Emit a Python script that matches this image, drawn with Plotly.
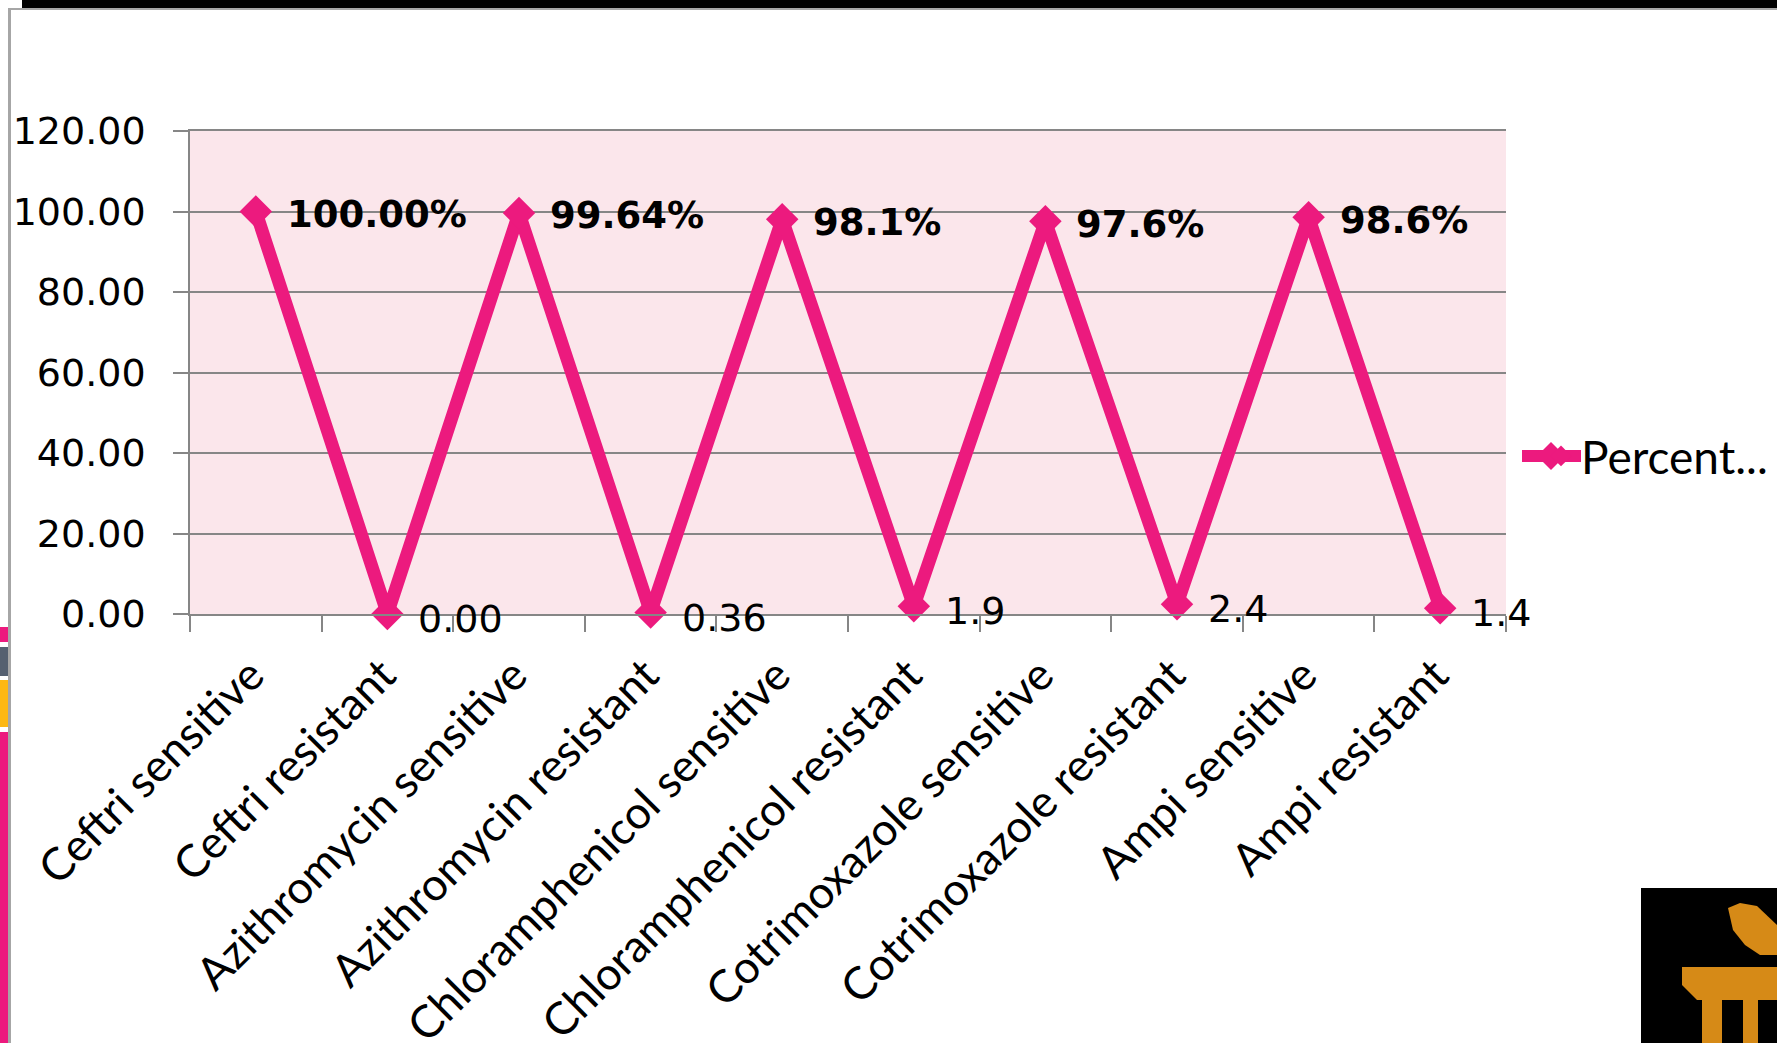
import plotly.graph_objects as go

categories = ["Ceftri sensitive", "Ceftri resistant", "Azithromycin sensitive", "Azithromycin resistant",
              "Chloramphenicol sensitive", "Chloramphenicol resistant", "Cotrimoxazole sensitive",
              "Cotrimoxazole resistant", "Ampi sensitive", "Ampi resistant"]
values = [100.0, 0.0, 99.64, 0.36, 98.1, 1.9, 97.6, 2.4, 98.6, 1.4]
labels = ["100.00%", "0.00", "99.64%", "0.36", "98.1%", "1.9", "97.6%", "2.4", "98.6%", "1.4"]
y_ticks = [0, 20, 40, 60, 80, 100, 120]
y_tick_labels = ["0.00", "20.00", "40.00", "60.00", "80.00", "100.00", "120.00"]
series_name = "Percent..."

W, H = 1777, 1043
PINK = "#EC1A7E"
TXT = "Lato"
NUM = "DejaVu Sans"
L, R, T, B = 190, 1506, 131, 614

fig = go.Figure(go.Scatter(
    x=categories, y=values, name=series_name, mode="lines+markers",
    line=dict(color=PINK, width=13),
    marker=dict(symbol="diamond", size=25, color=PINK),
    cliponaxis=False, showlegend=True))

for i, (c, v, t) in enumerate(zip(categories, values, labels)):
    bold = i % 2 == 0
    fig.add_annotation(x=c, y=v, text=f"<b>{t}</b>" if bold else t, showarrow=False,
                       xanchor="left", yanchor="middle", xshift=29, yshift=-3 if bold else -5,
                       font=dict(family=NUM, size=37 if bold else 38, color="black"))

def fx(x):
    return (x - L) / (R - L)

def fy(y):
    return (B - y) / (B - T)

def px(x0, y0, x1, y1, color):
    fig.add_shape(type="rect", xref="paper", yref="paper", layer="above", line_width=0, fillcolor=color,
                  x0=fx(x0), x1=fx(x1), y0=fy(y0), y1=fy(y1))

def poly(points, color):
    path = "M " + " L ".join(f"{fx(x):.5f} {fy(y):.5f}" for x, y in points) + " Z"
    fig.add_shape(type="path", xref="paper", yref="paper", layer="above", line_width=0, fillcolor=color, path=path)

# slide furniture around the chart
px(22, 0, W, 8, "black")
px(8, 8, 11, H, "#A6A6A6")
px(8, 8, W, 10, "#A6A6A6")
px(0, 627, 8, 642, PINK)
px(0, 647, 8, 676, "#556070")
px(0, 680, 8, 727, "#FDB813")
px(0, 732, 8, H, PINK)
px(1641, 888, W, H, "black")
ORANGE = "#D68A17"
poly([(1728, 908), (1740, 903), (1757, 906), (1777, 925), (1777, 955), (1760, 955), (1745, 945), (1733, 930)], ORANGE)
poly([(1682, 967), (1777, 967), (1777, 1000), (1697, 1000), (1682, 985)], ORANGE)
px(1702, 1000, 1722, H, ORANGE)
px(1743, 1000, 1758, H, ORANGE)

# legend glyph drawn at the reference's heavier weight
fig.add_shape(type="line", xref="paper", yref="paper", layer="above", line=dict(color=PINK, width=12),
              x0=fx(1522), x1=fx(1581), y0=fy(456), y1=fy(456))
poly([(1537, 456), (1551, 442), (1565, 456), (1551, 470)], PINK)

fig.update_layout(
    width=W, height=H, autosize=False,
    margin=dict(l=L, r=W - R, t=T, b=H - B, autoexpand=False),
    paper_bgcolor="white", plot_bgcolor="#FBE6EB",
    font=dict(family=TXT, color="black"),
    showlegend=True,
    legend=dict(x=fx(1541), y=fy(456), xanchor="left", yanchor="middle", bgcolor="rgba(0,0,0,0)",
                font=dict(family=TXT, size=46), itemwidth=30),
    xaxis=dict(type="category", categoryorder="array", categoryarray=categories, range=[-0.5, 9.5],
               tickson="boundaries", ticks="outside", ticklen=16, tickcolor="#868686", tickwidth=1.5,
               tickangle=-45, showline=True, mirror=True, linecolor="#868686", linewidth=1.5, showgrid=False,
               tickfont=dict(family=TXT, size=45), automargin=False, ticklabelstandoff=15, ticklabelshift=-5),
    yaxis=dict(range=[0, 120], tickmode="array", tickvals=y_ticks, ticktext=y_tick_labels,
               ticks="outside", ticklen=15, tickcolor="#868686", tickwidth=1.5, showline=True,
               linecolor="#868686", linewidth=1.5, gridcolor="#868686", gridwidth=1.5, zeroline=False,
               tickfont=dict(family=NUM, size=38), automargin=False, ticklabelstandoff=20),
)
fig.write_html("out.html", config=dict(displayModeBar=False, responsive=False),
               post_script="document.body.style.margin='0';document.documentElement.style.overflow='hidden';")
